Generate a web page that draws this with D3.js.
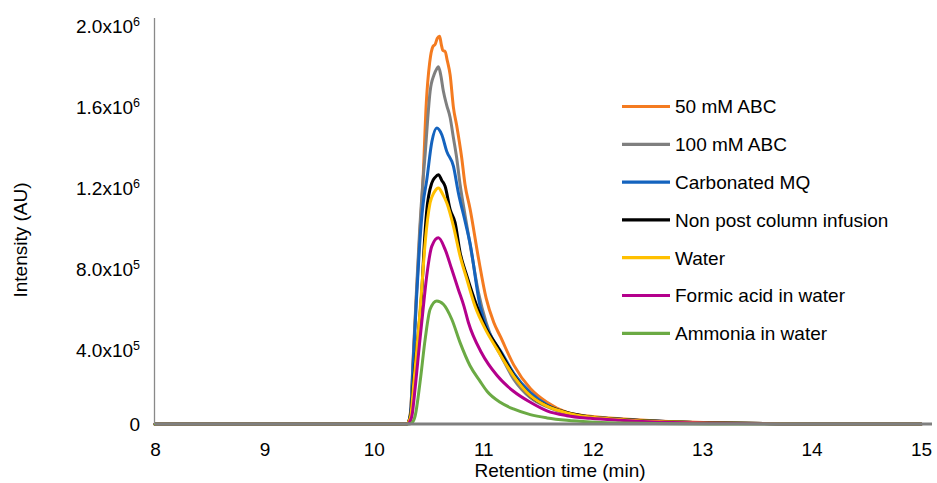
<!DOCTYPE html>
<html>
<head>
<meta charset="utf-8">
<script src="https://cdn.jsdelivr.net/npm/d3@7"></script>
<style>
  html, body { margin: 0; padding: 0; background: #fff; }
  svg { display: block; }
  text { font-family: "Liberation Sans", Arial, Helvetica, sans-serif; fill: #000; }
</style>
</head>
<body>
<svg id="chart" width="937" height="483"></svg>
<script>
// ---- Data (intensity in units of 1e6 AU, time in min) ----
const seriesNames = ["50 mM ABC", "100 mM ABC", "Carbonated MQ", "Non post column infusion", "Water", "Formic acid in water", "Ammonia in water"];
const seriesColors = ["#F47B20", "#7F7F7F", "#1463BE", "#000000", "#FFC000", "#B4008C", "#6BAA44"];

const abc50 = [[8,0],[10.297,0],[10.317,0.01],[10.337,0.07],[10.358,0.3],[10.388,0.62],[10.418,0.92],[10.449,1.2],[10.479,1.58],[10.510,1.78],[10.540,1.86],[10.560,1.87],[10.580,1.9],[10.601,1.91],[10.616,1.87],[10.631,1.84],[10.651,1.835],[10.671,1.79],[10.697,1.72],[10.727,1.56],[10.757,1.47],[10.803,1.31],[10.833,1.18],[10.879,1.06],[10.955,0.82],[11.026,0.62],[11.096,0.5],[11.157,0.43],[11.279,0.29],[11.430,0.175],[11.582,0.107],[11.764,0.057],[11.977,0.038],[12.25,0.026],[12.554,0.016],[13.06,0.007],[13.565,0.002],[14.07,0],[15,0]];
const abc100 = [[8,0],[10.297,0],[10.317,0.01],[10.337,0.07],[10.358,0.31],[10.388,0.64],[10.418,0.95],[10.449,1.2],[10.469,1.33],[10.489,1.48],[10.514,1.638],[10.550,1.72],[10.575,1.75],[10.590,1.76],[10.611,1.72],[10.635,1.64],[10.666,1.57],[10.697,1.51],[10.727,1.41],[10.757,1.31],[10.788,1.18],[10.833,1.03],[10.884,0.87],[10.955,0.65],[11.026,0.5],[11.096,0.4],[11.157,0.34],[11.279,0.22],[11.430,0.13],[11.582,0.085],[11.764,0.05],[11.977,0.033],[12.25,0.022],[12.554,0.014],[13.06,0.006],[13.565,0.002],[14.07,0],[15,0]];
const carbMQ = [[8,0],[10.297,0],[10.317,0.01],[10.337,0.06],[10.358,0.28],[10.388,0.6],[10.418,0.88],[10.449,1.08],[10.483,1.2],[10.530,1.39],[10.575,1.458],[10.621,1.425],[10.666,1.343],[10.727,1.27],[10.772,1.14],[10.833,1.0],[10.879,0.89],[10.971,0.58],[11.036,0.47],[11.096,0.41],[11.157,0.36],[11.279,0.25],[11.430,0.155],[11.582,0.095],[11.764,0.055],[11.977,0.035],[12.25,0.024],[12.554,0.015],[13.06,0.006],[13.565,0.002],[14.07,0],[15,0]];
const nonPCI = [[8,0],[10.297,0],[10.317,0.01],[10.337,0.05],[10.368,0.24],[10.408,0.46],[10.439,0.66],[10.459,0.87],[10.483,1.05],[10.530,1.188],[10.560,1.215],[10.590,1.228],[10.621,1.2],[10.651,1.171],[10.697,1.057],[10.742,0.993],[10.788,0.845],[10.850,0.729],[10.941,0.581],[11.026,0.47],[11.124,0.385],[11.279,0.24],[11.430,0.139],[11.582,0.09],[11.764,0.057],[11.977,0.035],[12.25,0.024],[12.554,0.015],[13.06,0.006],[13.565,0.002],[14.07,0],[15,0]];
const water = [[8,0],[10.297,0],[10.317,0.01],[10.337,0.04],[10.368,0.22],[10.408,0.46],[10.439,0.68],[10.469,0.894],[10.514,1.09],[10.550,1.14],[10.590,1.163],[10.631,1.13],[10.666,1.09],[10.727,0.975],[10.788,0.827],[10.850,0.713],[10.924,0.581],[11.026,0.46],[11.124,0.37],[11.279,0.235],[11.430,0.14],[11.582,0.088],[11.764,0.055],[11.977,0.034],[12.25,0.022],[12.554,0.013],[13.06,0.005],[13.565,0.002],[14.07,0],[15,0]];
const formic = [[8,0],[10.307,0],[10.327,0.01],[10.348,0.04],[10.378,0.18],[10.418,0.4],[10.449,0.56],[10.483,0.729],[10.530,0.876],[10.590,0.917],[10.651,0.86],[10.712,0.762],[10.772,0.663],[10.823,0.581],[10.864,0.5],[10.985,0.35],[11.124,0.24],[11.279,0.16],[11.430,0.107],[11.582,0.065],[11.764,0.041],[11.977,0.028],[12.25,0.018],[12.554,0.01],[13.06,0.004],[13.565,0.001],[14.07,0],[15,0]];
const ammonia = [[8,0],[10.327,0],[10.348,0.005],[10.378,0.041],[10.422,0.205],[10.469,0.418],[10.514,0.565],[10.575,0.606],[10.635,0.59],[10.712,0.516],[10.788,0.401],[10.879,0.287],[10.971,0.21],[11.036,0.16],[11.154,0.107],[11.275,0.074],[11.430,0.046],[11.582,0.03],[11.764,0.018],[11.977,0.01],[12.25,0.005],[12.554,0.002],[13.06,0],[15,0]];

const xTicks = [8, 9, 10, 11, 12, 13, 14, 15];
const yTicks = [0, 0.4, 0.8, 1.2, 1.6, 2.0];
const yTickMantissa = ["0", "4.0x10", "8.0x10", "1.2x10", "1.6x10", "2.0x10"];
const yTickExponent = ["", "5", "5", "6", "6", "6"];

const allSeries = [abc50, abc100, carbMQ, nonPCI, water, formic, ammonia];

// ---- Layout ----
const svg = d3.select("#chart");
const X0 = 155, X1 = 921, Y0 = 424, Y1 = 18;
const x = d3.scaleLinear().domain([8, 15]).range([X0, X1]);
const y = d3.scaleLinear().domain([0, 2.0]).range([Y0, Y1]);
const FS = 19;

svg.append("rect").attr("width", 937).attr("height", 483).attr("fill", "#fff");

// series lines
const line = d3.line().x(d => x(d[0])).y(d => y(d[1])).curve(d3.curveMonotoneX);
svg.append("g").selectAll("path").data(allSeries).join("path")
  .attr("d", line)
  .attr("fill", "none")
  .attr("stroke", (d, i) => seriesColors[i])
  .attr("stroke-width", 3)
  .attr("stroke-linejoin", "round")
  .attr("stroke-linecap", "round");

// y axis
const yAxis = d3.axisLeft(y).tickValues(yTicks).tickSize(0).tickPadding(15).tickFormat("");
const gy = svg.append("g").attr("transform", `translate(${X0},0)`).call(yAxis);
gy.select(".domain").remove();
gy.selectAll(".tick text").remove();
gy.selectAll(".tick").each(function(d, i) {
  const t = d3.select(this).append("text")
    .attr("x", -15)
    .attr("text-anchor", "end")
    .attr("font-size", FS)
    .attr("dy", yTickExponent[i] ? 14 : 6.5);
  t.append("tspan").text(yTickMantissa[i]);
  if (yTickExponent[i]) {
    t.append("tspan").attr("font-size", 12.5).attr("dy", -7).text(yTickExponent[i]);
  }
});
svg.append("line")
  .attr("x1", X0 - 0.5).attr("x2", X0 - 0.5)
  .attr("y1", Y1).attr("y2", Y0)
  .attr("stroke", "#898989").attr("stroke-width", 1.3);

// x axis
const xAxis = d3.axisBottom(x).tickValues(xTicks).tickSize(0).tickPadding(18.5).tickFormat(d3.format("d"));
const gx = svg.append("g").attr("transform", `translate(0,${Y0})`).call(xAxis);
gx.select(".domain").remove();
gx.selectAll(".tick text").attr("font-size", FS).attr("font-family", "'Liberation Sans', Arial, sans-serif").attr("fill", "#000");
svg.append("line")
  .attr("x1", X0).attr("x2", 932)
  .attr("y1", Y0).attr("y2", Y0)
  .attr("stroke", "#7F7F7F").attr("stroke-width", 3);

// axis titles
svg.append("text")
  .attr("x", 560).attr("y", 477)
  .attr("text-anchor", "middle").attr("font-size", FS)
  .text("Retention time (min)");
svg.append("text")
  .attr("transform", "translate(27,240) rotate(-90)")
  .attr("text-anchor", "middle").attr("font-size", FS)
  .text("Intensity (AU)");

// legend
const legend = svg.append("g");
const rows = legend.selectAll("g").data(seriesNames).join("g")
  .attr("transform", (d, i) => `translate(0,${106.5 + i * 37.8})`);
rows.append("line")
  .attr("x1", 622).attr("x2", 670).attr("y1", 0).attr("y2", 0)
  .attr("stroke", (d, i) => seriesColors[i]).attr("stroke-width", 3.2);
rows.append("text")
  .attr("x", 675).attr("y", 6.8)
  .attr("font-size", FS)
  .text(d => d);
</script>
</body>
</html>
